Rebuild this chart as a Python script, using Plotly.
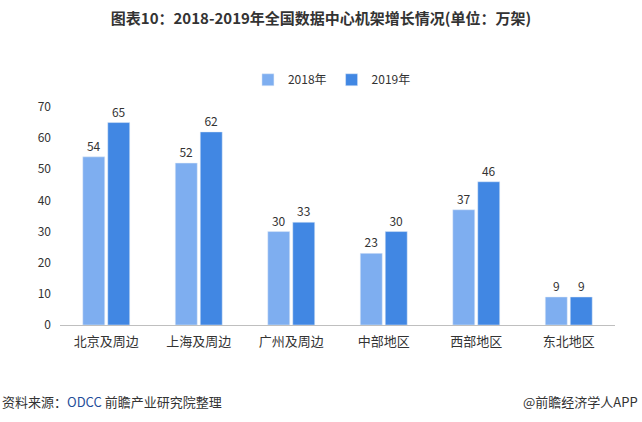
import plotly.graph_objects as go

categories = ["北京及周边", "上海及周边", "广州及周边", "中部地区", "西部地区", "东北地区"]
v2018 = [54, 52, 30, 23, 37, 9]
v2019 = [65, 62, 33, 30, 46, 9]
yticks = [0, 10, 20, 30, 40, 50, 60, 70]

FONT = "Noto Sans CJK SC, Microsoft YaHei, sans-serif"

fig = go.Figure()
fig.add_trace(go.Bar(name="2018年", x=categories, y=v2018, marker_color="#7EAEF0",
                     text=v2018, textposition="outside", cliponaxis=False,
                     textfont=dict(size=12, color="#333333")))
fig.add_trace(go.Bar(name="2019年", x=categories, y=v2019, marker_color="#4187E3",
                     text=v2019, textposition="outside", cliponaxis=False,
                     textfont=dict(size=12, color="#333333")))

fig.update_layout(
    width=642, height=422,
    margin=dict(l=60, r=27, t=107, b=97),
    paper_bgcolor="white", plot_bgcolor="white",
    font=dict(family=FONT, size=12, color="#333333"),
    barmode="group", bargap=0.46, bargroupgap=0.12,
    title=dict(text="<b>图表10：2018-2019年全国数据中心机架增长情况(单位：万架)</b>",
               x=0.5, xanchor="center", y=0.955, yanchor="middle",
               font=dict(size=15, color="#333333", family=FONT)),
    legend=dict(orientation="h", x=0.49, xanchor="center", y=1.125, yanchor="middle",
                font=dict(size=12, color="#333333"), itemwidth=30,
                traceorder="normal"),
    showlegend=True,
)
fig.update_yaxes(range=[0, 70], tickvals=yticks, showgrid=False, zeroline=False,
                 showline=False, ticks="", ticklabelstandoff=8,
                 tickfont=dict(size=12, color="#333333"))
fig.update_xaxes(showline=True, linecolor="#BFBFBF", linewidth=1, ticks="",
                 ticklabelstandoff=4,
                 tickfont=dict(size=13, color="#333333"), showgrid=False)

fig.add_annotation(text="资料来源：<span style='color:#1F4E9A'>ODCC</span> 前瞻产业研究院整理",
                   xref="paper", yref="paper", x=-60/555, y=-76/218, xanchor="left",
                   yanchor="middle", showarrow=False,
                   font=dict(size=13, color="#333333", family=FONT))
fig.add_annotation(text="@前瞻经济学人APP", xref="paper", yref="paper",
                   x=(642-60-2)/555, y=-76/218, xanchor="right", yanchor="middle",
                   showarrow=False, font=dict(size=13, color="#333333", family=FONT))

fig.write_html("out.html")
